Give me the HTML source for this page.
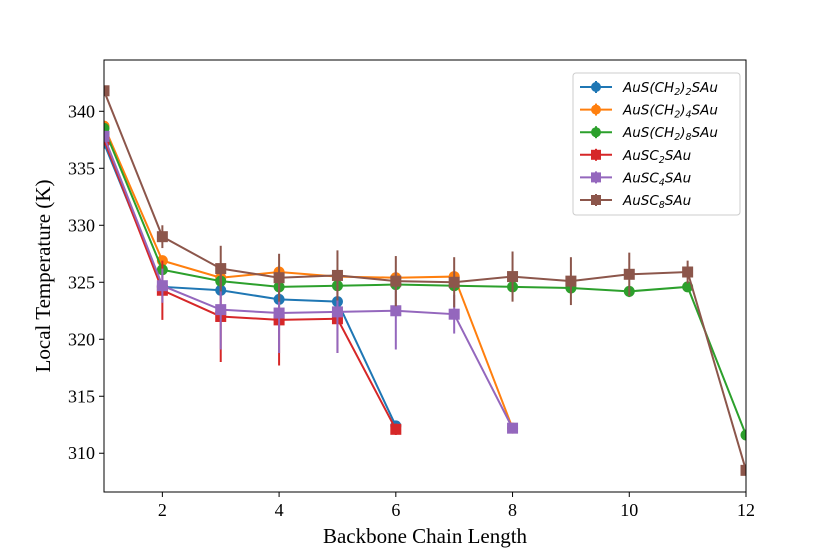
<!DOCTYPE html>
<html><head><meta charset="utf-8"><style>
html,body{margin:0;padding:0;background:#fff;}
svg{display:block;}
</style></head><body>
<svg id="chart" width="830" height="554" viewBox="0 0 830 554" xmlns="http://www.w3.org/2000/svg"></svg>
<script>
const xTicks = [2,4,6,8,10,12];
const yTicks = [310,315,320,325,330,335,340];
const seriesNames = ["AuS(CH2)2SAu","AuS(CH2)4SAu","AuS(CH2)8SAu","AuSC2SAu","AuSC4SAu","AuSC8SAu"];
const blueX = [1,2,3,4,5,6];
const blueY = [337.2,324.6,324.3,323.5,323.3,312.4];
const blueErr = [0.4,0.3,0.4,0.4,0.3,0.3];
const orangeX = [1,2,3,4,5,6,7,8];
const orangeY = [338.7,326.9,325.4,325.9,325.5,325.4,325.5,312.2];
const orangeErr = [0.3,0.4,0.4,0.5,0.4,0.4,0.4,0.3];
const greenX = [1,2,3,4,5,6,7,8,9,10,11,12];
const greenY = [338.5,326.1,325.1,324.6,324.7,324.8,324.7,324.6,324.5,324.2,324.6,311.6];
const greenErr = [0.3,0.4,0.4,0.4,0.4,0.4,0.4,0.5,0.5,0.5,0.4,0.3];
const redX = [1,2,3,4,5,6];
const redY = [337.5,324.3,322.0,321.7,321.8,312.1];
const redErr = [0.4,2.6,4.0,4.0,3.0,0.5];
const purpleX = [1,2,3,4,5,6,7,8];
const purpleY = [337.8,324.7,322.6,322.3,322.4,322.5,322.2,312.2];
const purpleErr = [0.4,1.5,3.5,3.5,3.6,3.4,1.7,0.3];
const brownX = [1,2,3,4,5,6,7,8,9,10,11,12];
const brownY = [341.8,329.0,326.2,325.4,325.6,325.1,325.0,325.5,325.1,325.7,325.9,308.5];
const brownErr = [0.3,1.0,2.0,2.1,2.2,2.2,2.2,2.2,2.1,1.9,1.0,0.3];

const L=104,R=746,T=60,B=492;
const xMin=1,xMax=12,yMin=306.6,yMax=344.5;
const sx=v=>L+(v-xMin)/(xMax-xMin)*(R-L);
const sy=v=>B-(v-yMin)/(yMax-yMin)*(B-T);
const NS="http://www.w3.org/2000/svg";
const svg=document.getElementById('chart');
function mk(tag,attrs,parent){const e=document.createElementNS(NS,tag);for(const k in attrs)e.setAttribute(k,attrs[k]);(parent||svg).appendChild(e);return e;}

const gAxes=mk('g',{});



xTicks.forEach(t=>{
  const g=mk('g',{},gAxes);
  
  
  mk('line',{x1:sx(t),x2:sx(t),y1:B,y2:B+5,stroke:'#000','stroke-width':1},g);
  const tx=mk('text',{x:sx(t),y:B+24,'text-anchor':'middle','font-family':'Liberation Serif, serif','font-size':18,fill:'#000'},g);
  tx.textContent=t;
});
yTicks.forEach(t=>{
  const g=mk('g',{},gAxes);
  
  
  mk('line',{x1:L-5,x2:L,y1:sy(t),y2:sy(t),stroke:'#000','stroke-width':1},g);
  const tx=mk('text',{x:L-9,y:sy(t)+6,'text-anchor':'end','font-family':'Liberation Serif, serif','font-size':18,fill:'#000'},g);
  tx.textContent=t;
});

const series=[
 {name:seriesNames[0],c:'#1f77b4',m:'o',x:blueX,y:blueY,e:blueErr},
 {name:seriesNames[1],c:'#ff7f0e',m:'o',x:orangeX,y:orangeY,e:orangeErr},
 {name:seriesNames[2],c:'#2ca02c',m:'o',x:greenX,y:greenY,e:greenErr},
 {name:seriesNames[3],c:'#d62728',m:'s',x:redX,y:redY,e:redErr},
 {name:seriesNames[4],c:'#9467bd',m:'s',x:purpleX,y:purpleY,e:purpleErr},
 {name:seriesNames[5],c:'#8c564b',m:'s',x:brownX,y:brownY,e:brownErr}
];
const clip=mk('clipPath',{id:'pc'});
mk('rect',{x:L,y:T,width:R-L,height:B-T},clip);
series.forEach((s,i)=>{
  const g=mk('g',{'clip-path':'url(#pc)'});
  
  
  s.x.forEach((xv,j)=>{
    const l=mk('line',{x1:sx(xv),x2:sx(xv),y1:sy(s.y[j]-s.e[j]),y2:sy(s.y[j]+s.e[j]),stroke:s.c,'stroke-width':2},g);
    
    
  });
  const pts=s.x.map((xv,j)=>sx(xv)+','+sy(s.y[j])).join(' ');
  mk('polyline',{points:pts,fill:'none',stroke:s.c,'stroke-width':2},g);
  s.x.forEach((xv,j)=>{
    let p;
    if(s.m==='o') p=mk('circle',{cx:sx(xv),cy:sy(s.y[j]),r:5.5,fill:s.c},g);
    else p=mk('rect',{x:sx(xv)-5.5,y:sy(s.y[j])-5.5,width:11,height:11,fill:s.c},g);
    
    
  });
});
const frame=mk('rect',{x:L,y:T,width:R-L,height:B-T,fill:'none',stroke:'#000','stroke-width':1});



const xt=mk('text',{x:(L+R)/2,y:543,'text-anchor':'middle','font-family':'Liberation Serif, serif','font-size':21,fill:'#000'});


xt.textContent='Backbone Chain Length';
const yt=mk('text',{x:0,y:0,'text-anchor':'middle','font-family':'Liberation Serif, serif','font-size':21,fill:'#000',transform:'translate(50,'+((T+B)/2)+') rotate(-90)'});


yt.textContent='Local Temperature (K)';

const lg=mk('g',{});


mk('rect',{x:573,y:73,width:167,height:142,rx:3,fill:'#fff','fill-opacity':0.85,stroke:'#ccc','stroke-width':1},lg);
const labels=[['AuS(CH','2',')','2','SAu'],['AuS(CH','2',')','4','SAu'],['AuS(CH','2',')','8','SAu'],['AuSC','2','SAu'],['AuSC','4','SAu'],['AuSC','8','SAu']];
series.forEach((s,i)=>{
  const y=87+i*22.6;
  const g=mk('g',{},lg);
  
  
  mk('line',{x1:580,x2:612,y1:y,y2:y,stroke:s.c,'stroke-width':2},g);
  mk('line',{x1:596,x2:596,y1:y-6,y2:y+6,stroke:s.c,'stroke-width':2},g);
  if(s.m==='o') mk('circle',{cx:596,cy:y,r:5,fill:s.c},g);
  else mk('rect',{x:591,y:y-5,width:10,height:10,fill:s.c},g);
  const t=mk('text',{x:623,y:y+5,'font-family':'DejaVu Sans, sans-serif','font-size':13.5,'font-style':'italic',fill:'#000'},g);
  const parts=labels[i];
  parts.forEach((p,k)=>{
    const isSub = /^[0-9]$/.test(p);
    const ts=mk('tspan',isSub?{'font-size':9.5,dy:3}:{dy:k>0&&/^[0-9]$/.test(parts[k-1])?-3:0},t);
    ts.textContent=p;
  });
});
</script>
</body></html>
